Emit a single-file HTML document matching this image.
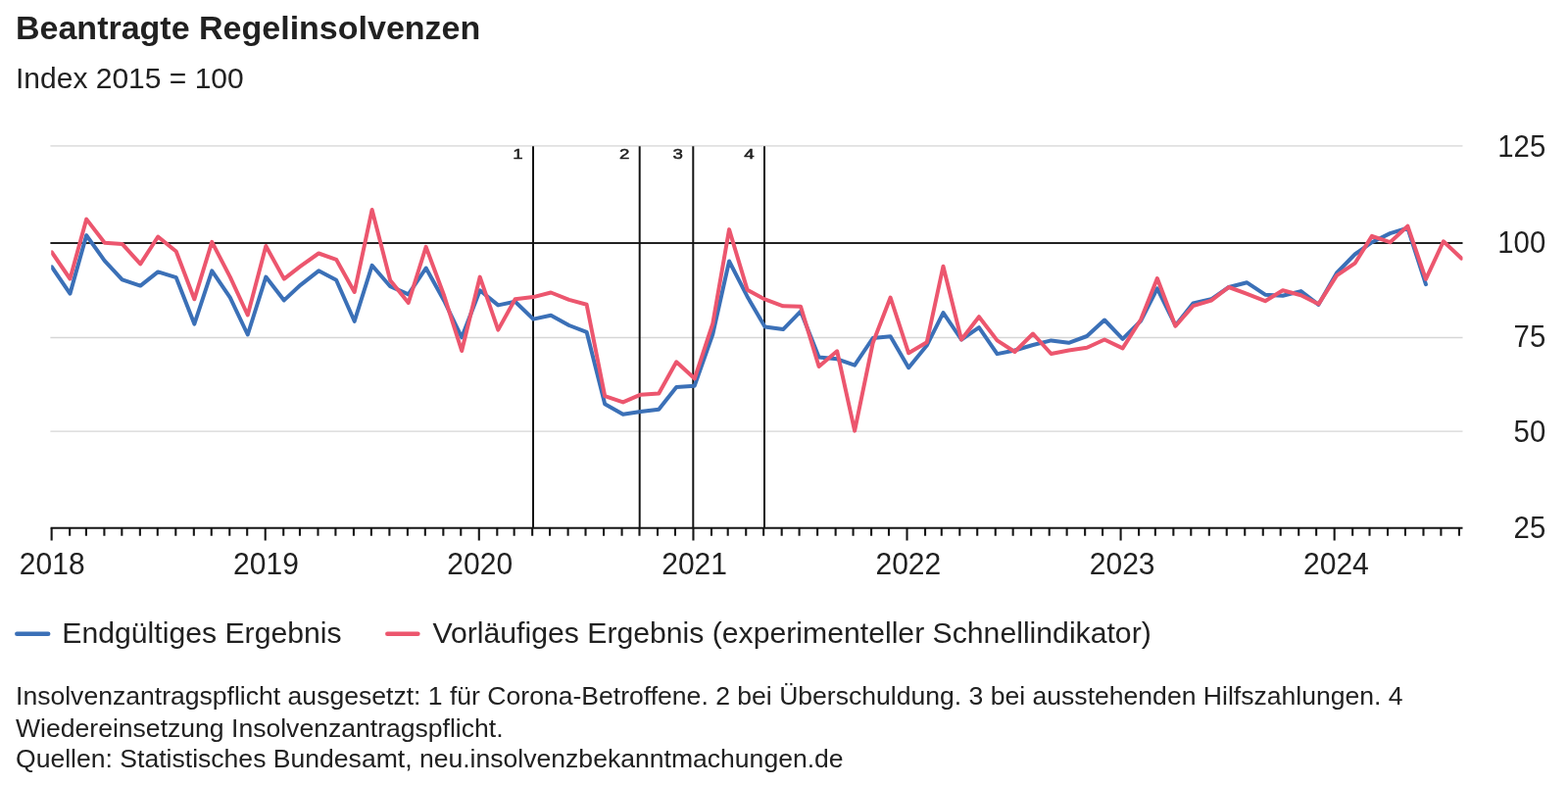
<!DOCTYPE html>
<html lang="de">
<head>
<meta charset="utf-8">
<title>Beantragte Regelinsolvenzen</title>
<style>
html,body{margin:0;padding:0;background:#fff;}
body{width:1600px;height:802px;overflow:hidden;}
svg{display:block;}
svg text{font-family:"Liberation Sans",Arial,Helvetica,sans-serif;fill:#212121;}
</style>
</head>
<body>
<svg width="1600" height="802" viewBox="0 0 1600 802">
<rect width="1600" height="802" fill="#ffffff"/>
<text x="16" y="40" font-size="34" font-weight="bold">Beantragte Regelinsolvenzen</text>
<text x="16" y="90" font-size="30">Index 2015 = 100</text>
<g fill="none">
<line x1="51.4" x2="1492.5" y1="148.9" y2="148.9" stroke="#e1e1e1" stroke-width="1.9"/>
<line x1="51.4" x2="1492.5" y1="344.5" y2="344.5" stroke="#d6d6d6" stroke-width="1.4"/>
<line x1="51.4" x2="1492.5" y1="440.1" y2="440.1" stroke="#d6d6d6" stroke-width="1.4"/>
<line x1="51.4" x2="1492.5" y1="248" y2="248" stroke="#222222" stroke-width="2.2"/>
</g>
<text transform="translate(1577.2 160) scale(1 1.04)" font-size="29.3" text-anchor="end">125</text>
<text transform="translate(1577.2 258) scale(1 1.04)" font-size="29.3" text-anchor="end">100</text>
<text transform="translate(1577.2 354) scale(1 1.04)" font-size="29.3" text-anchor="end">75</text>
<text transform="translate(1577.2 451) scale(1 1.04)" font-size="29.3" text-anchor="end">50</text>
<text transform="translate(1577.2 549) scale(1 1.04)" font-size="29.3" text-anchor="end">25</text>
<g stroke="#141414" stroke-width="2" fill="none">
<line x1="544.0" x2="544.0" y1="149.3" y2="538.8"/>
<line x1="652.7" x2="652.7" y1="149.3" y2="538.8"/>
<line x1="707.3" x2="707.3" y1="149.3" y2="538.8"/>
<line x1="780.0" x2="780.0" y1="149.3" y2="538.8"/>
</g>
<text transform="translate(533.70 161.6) scale(1.3 1)" font-size="14.4" text-anchor="end" stroke="#1d1d1d" stroke-width="0.45">1</text>
<text transform="translate(642.40 161.6) scale(1.3 1)" font-size="14.4" text-anchor="end" stroke="#1d1d1d" stroke-width="0.45">2</text>
<text transform="translate(697.00 161.6) scale(1.3 1)" font-size="14.4" text-anchor="end" stroke="#1d1d1d" stroke-width="0.45">3</text>
<text transform="translate(769.70 161.6) scale(1.3 1)" font-size="14.4" text-anchor="end" stroke="#1d1d1d" stroke-width="0.45">4</text>
<g stroke="#161616" stroke-width="2.1" fill="none">
<line x1="51.6" x2="1492.5" y1="538.8" y2="538.8"/>
<path d="M52.65 538.8v12.6M71.17 538.8v8M87.90 538.8v8M106.42 538.8v8M124.34 538.8v8M142.86 538.8v8M160.79 538.8v8M179.31 538.8v8M197.83 538.8v8M215.75 538.8v8M234.27 538.8v8M252.20 538.8v8M270.72 538.8v12.6M289.24 538.8v8M305.97 538.8v8M324.49 538.8v8M342.41 538.8v8M360.93 538.8v8M378.86 538.8v8M397.38 538.8v8M415.90 538.8v8M433.82 538.8v8M452.34 538.8v8M470.27 538.8v8M488.79 538.8v12.6M507.31 538.8v8M524.64 538.8v8M543.16 538.8v8M561.08 538.8v8M579.60 538.8v8M597.52 538.8v8M616.05 538.8v8M634.57 538.8v8M652.49 538.8v8M671.01 538.8v8M688.93 538.8v8M707.46 538.8v12.6M725.98 538.8v8M742.70 538.8v8M761.23 538.8v8M779.15 538.8v8M797.67 538.8v8M815.59 538.8v8M834.11 538.8v8M852.64 538.8v8M870.56 538.8v8M889.08 538.8v8M907.00 538.8v8M925.52 538.8v12.6M944.05 538.8v8M960.77 538.8v8M979.29 538.8v8M997.22 538.8v8M1015.74 538.8v8M1033.66 538.8v8M1052.18 538.8v8M1070.70 538.8v8M1088.63 538.8v8M1107.15 538.8v8M1125.07 538.8v8M1143.59 538.8v12.6M1162.11 538.8v8M1178.84 538.8v8M1197.36 538.8v8M1215.29 538.8v8M1233.81 538.8v8M1251.73 538.8v8M1270.25 538.8v8M1288.77 538.8v8M1306.70 538.8v8M1325.22 538.8v8M1343.14 538.8v8M1361.66 538.8v12.6M1380.18 538.8v8M1397.51 538.8v8M1416.03 538.8v8M1433.95 538.8v8M1452.48 538.8v8M1470.40 538.8v8M1488.92 538.8v8"/>
</g>
<text transform="translate(53.20 586) scale(1 1.02)" font-size="30" text-anchor="middle">2018</text>
<text transform="translate(271.47 586) scale(1 1.02)" font-size="30" text-anchor="middle">2019</text>
<text transform="translate(489.74 586) scale(1 1.02)" font-size="30" text-anchor="middle">2020</text>
<text transform="translate(708.61 586) scale(1 1.02)" font-size="30" text-anchor="middle">2021</text>
<text transform="translate(926.87 586) scale(1 1.02)" font-size="30" text-anchor="middle">2022</text>
<text transform="translate(1145.14 586) scale(1 1.02)" font-size="30" text-anchor="middle">2023</text>
<text transform="translate(1363.41 586) scale(1 1.02)" font-size="30" text-anchor="middle">2024</text>
<clipPath id="plot"><rect x="52.2" y="140" width="1440.3" height="410"/></clipPath>
<g clip-path="url(#plot)" fill="none" stroke-linejoin="round" stroke-linecap="round">
<polyline points="52.90,272.40 71.45,299.60 88.21,240.10 106.76,266.10 124.71,285.30 143.26,291.60 161.21,277.40 179.76,283.20 198.31,330.60 216.26,276.30 234.81,303.70 252.77,341.50 271.32,282.60 289.87,306.40 306.62,290.80 325.17,276.30 343.12,285.80 361.67,327.80 379.63,270.80 398.18,292.20 416.73,300.40 434.68,273.50 453.23,307.00 471.18,344.30 489.73,296.30 508.28,311.40 525.64,307.80 544.19,325.60 562.14,321.80 580.69,332.00 598.64,338.80 617.19,412.30 635.74,422.80 653.69,420.00 672.24,417.80 690.20,395.10 708.75,393.70 727.30,341.00 744.05,266.50 762.60,302.70 780.55,333.40 799.10,336.10 817.06,317.70 835.61,364.40 854.16,366.30 872.11,372.70 890.66,345.00 908.61,343.20 927.16,375.20 945.71,352.60 962.47,319.10 981.02,346.50 998.97,334.20 1017.52,361.10 1035.47,357.50 1054.02,352.00 1072.57,347.40 1090.53,349.80 1109.08,343.00 1127.03,326.50 1145.58,345.90 1164.13,327.30 1180.88,294.40 1199.43,332.20 1217.39,309.40 1235.94,305.30 1253.89,293.00 1272.44,288.30 1290.99,300.70 1308.94,301.80 1327.49,297.10 1345.44,310.80 1363.99,278.50 1382.54,259.50 1399.90,247.20 1418.45,238.10 1436.40,232.70 1454.95,290.20" stroke="#3b70b7" stroke-width="4.0"/>
<polyline points="52.90,257.40 71.45,284.50 88.21,223.60 106.76,247.80 124.71,248.90 143.26,269.30 161.21,241.50 179.76,256.50 198.31,305.30 216.26,246.90 234.81,282.60 252.77,321.50 271.32,251.00 289.87,284.60 306.62,271.60 325.17,258.50 343.12,264.80 361.67,298.00 379.63,214.00 398.18,285.90 416.73,309.00 434.68,251.90 453.23,301.80 471.18,358.00 489.73,282.60 508.28,336.60 525.64,305.30 544.19,303.10 562.14,298.50 580.69,305.90 598.64,310.80 617.19,404.10 635.74,410.40 653.69,402.70 672.24,401.40 690.20,369.30 708.75,386.30 727.30,330.10 744.05,234.10 762.60,295.80 780.55,305.40 799.10,312.30 817.06,312.80 835.61,374.00 854.16,358.30 872.11,439.60 890.66,350.00 908.61,303.50 927.16,360.30 945.71,349.30 962.47,271.70 981.02,346.50 998.97,323.20 1017.52,347.40 1035.47,359.00 1054.02,340.50 1072.57,361.00 1090.53,357.50 1109.08,354.80 1127.03,346.50 1145.58,355.40 1164.13,326.00 1180.88,284.00 1199.43,332.70 1217.39,312.20 1235.94,306.70 1253.89,293.00 1272.44,299.80 1290.99,307.20 1308.94,296.30 1327.49,301.20 1345.44,310.30 1363.99,281.20 1382.54,268.70 1399.90,240.90 1418.45,247.20 1436.40,230.70 1454.95,284.80 1472.90,246.25 1491.45,263.75" stroke="#ec566e" stroke-width="4.0"/>
</g>
<line x1="17.3" x2="49.2" y1="646.8" y2="646.8" stroke="#3b70b7" stroke-width="4.5" stroke-linecap="round"/>
<text x="63.3" y="656" font-size="30.2">Endgültiges Ergebnis</text>
<line x1="395.3" x2="426.4" y1="646.8" y2="646.8" stroke="#ec566e" stroke-width="4.5" stroke-linecap="round"/>
<text x="441.5" y="656" font-size="30.2">Vorläufiges Ergebnis (experimenteller Schnellindikator)</text>
<text x="16" y="719" font-size="26.57">Insolvenzantragspflicht ausgesetzt: 1 für Corona-Betroffene. 2 bei Überschuldung. 3 bei ausstehenden Hilfszahlungen. 4</text>
<text x="16" y="752" font-size="26.57">Wiedereinsetzung Insolvenzantragspflicht.</text>
<text x="16" y="783" font-size="26.57">Quellen: Statistisches Bundesamt, neu.insolvenzbekanntmachungen.de</text>
</svg>
</body>
</html>
